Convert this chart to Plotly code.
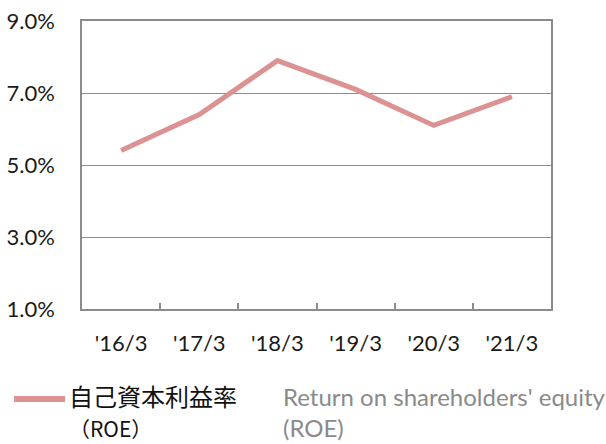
import plotly.graph_objects as go

# Fiscal year-end labels and return on equity (%)
periods = ["'16/3", "'17/3", "'18/3", "'19/3", "'20/3", "'21/3"]
roe = [5.4, 6.4, 7.9, 7.1, 6.1, 6.9]
y_ticks = [1, 3, 5, 7, 9]
y_tick_text = ["1.0%", "3.0%", "5.0%", "7.0%", "9.0%"]

line_color = "#dc9292"
grid_color = "#8c8c8c"
latin_font = "Lato, Noto Sans, sans-serif"
cjk_font = "Noto Sans CJK JP, sans-serif"

# plot area in pixels
L, R, T, B = 82, 551, 21, 309
W, H = R - L, B - T


def px(x):
    return (x - L) / W


def py(y):
    return (B - y) / H


fig = go.Figure()
fig.add_trace(go.Scatter(
    x=periods, y=roe, mode="lines",
    line=dict(color=line_color, width=5),
    showlegend=False, hoverinfo="skip",
))

fig.update_layout(
    width=606, height=444,
    margin=dict(l=L, r=606 - R, t=T, b=444 - B),
    paper_bgcolor="white", plot_bgcolor="white",
    font=dict(family=latin_font, size=22, color="#1a1a1a"),
    xaxis=dict(
        type="category", range=[-0.5, 5.5], automargin=False,
        showline=True, linecolor=grid_color, linewidth=1.5, mirror=True,
        ticks="inside", tickson="boundaries", ticklen=6, tickcolor=grid_color, tickwidth=1.5,
        showgrid=False, ticklabelstandoff=14, fixedrange=True,
    ),
    yaxis=dict(
        range=[1, 9], tickvals=y_ticks, ticktext=y_tick_text, automargin=False,
        showline=True, linecolor=grid_color, linewidth=1.5, mirror=True,
        showgrid=True, gridcolor=grid_color, gridwidth=1.2,
        zeroline=False, ticks="", ticklabelstandoff=21, fixedrange=True,
    ),
)

# Legend: line sample with Japanese and English captions
fig.add_shape(type="line", xref="paper", yref="paper",
              x0=px(14), x1=px(65), y0=py(399), y1=py(399),
              line=dict(color=line_color, width=6))
fig.add_annotation(xref="paper", yref="paper", x=px(68), y=py(444),
                   text="自己資本利益率<br><span style='font-size:21px'>（ROE）</span>",
                   showarrow=False, xanchor="left", yanchor="bottom", align="left",
                   borderpad=0,
                   font=dict(family=cjk_font, size=24, color="#111111"))
fig.add_annotation(xref="paper", yref="paper", x=px(281), y=py(412),
                   text="Return on shareholders' equity<br>(ROE)",
                   showarrow=False, xanchor="left", yanchor="middle", align="left",
                   font=dict(family=latin_font, size=24, color="#8a8a8a"))

fig.write_html("out.html")
